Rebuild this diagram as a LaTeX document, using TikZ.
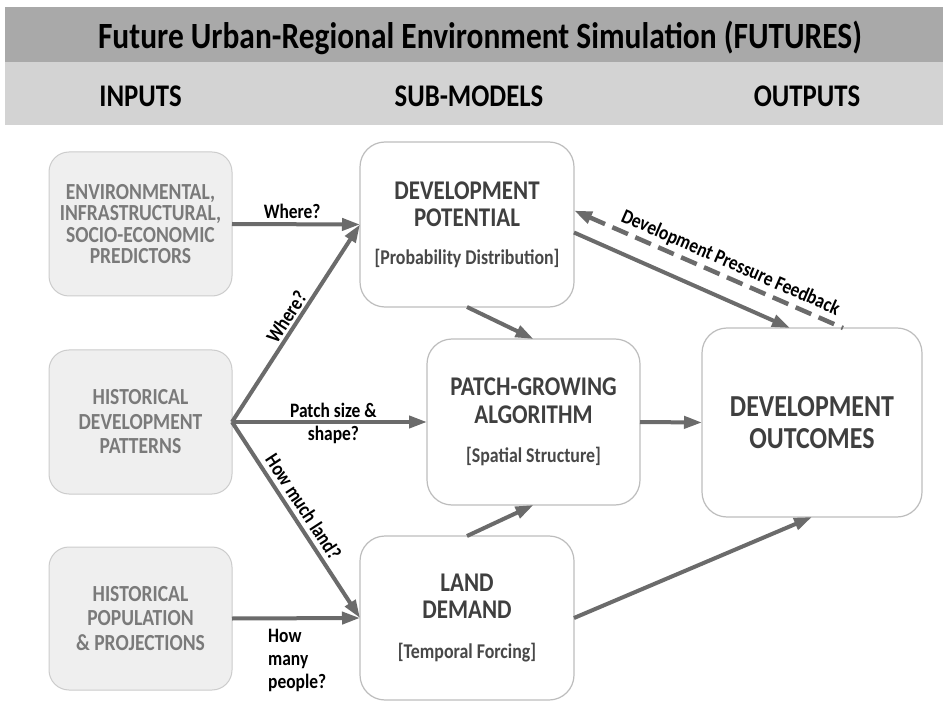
\documentclass[tikz,border=0pt]{standalone}
\usepackage{fontspec}
\setmainfont{Carlito}[FakeStretch=0.85]
\usetikzlibrary{arrows.meta,calc}
\definecolor{barA}{HTML}{A9A9A9}
\definecolor{barB}{HTML}{D3D3D3}
\definecolor{arrowc}{HTML}{6B6B6B}
\definecolor{infill}{HTML}{EFEFEF}
\definecolor{inborder}{HTML}{CCCCCC}
\definecolor{intext}{HTML}{7A7A7A}
\definecolor{subborder}{HTML}{BDBDBD}
\definecolor{subtext}{HTML}{3F3F3F}
\definecolor{brtext}{HTML}{484848}
\begin{document}
\begin{tikzpicture}[x=1pt,y=-1pt,
  inbox/.style={draw=inborder, fill=infill, rounded corners=20pt, line width=1pt,
    minimum width=183pt, minimum height=144pt, inner sep=0pt, outer sep=0pt,
    text=intext, font=\fontsize{23}{24.5}\selectfont\bfseries, align=center},
  submodel/.style={draw=subborder, fill=white, rounded corners=25pt, line width=1.2pt,
    inner sep=0pt, outer sep=0pt, text=subtext,
    font=\fontsize{27}{27.5}\selectfont\bfseries, align=center},
  arr/.style={draw=arrowc, line width=4pt, -{Triangle[length=18pt,width=12pt]}},
  darr/.style={draw=arrowc, line width=4.5pt, dash pattern=on 17pt off 8pt,
    {Triangle[length=18pt,width=12pt]}-},
  lab/.style={font=\fontsize{20.5}{23}\selectfont\bfseries, text=black},
  hdr/.style={font=\fontsize{31.5}{34}\selectfont\bfseries, text=black, anchor=base}
]
\useasboundingbox (0,0) rectangle (948,703);
\fill[white] (0,0) rectangle (948,703);
\fill[barA] (5,7) rectangle (943,62);
\fill[barB] (5,62) rectangle (943,125);
\node[font=\fontsize{37}{40}\selectfont\bfseries, text=black, anchor=base] (title) at (480,48.5)
  {Future Urban-Regional Environment Simulation (FUTURES)};
\node[hdr] (hin) at (140.5,107) {INPUTS};
\node[hdr] (hsub) at (469,107) {SUB-MODELS};
\node[hdr] (hout) at (807,107) {OUTPUTS};

% inputs
\node[inbox, font=\fontsize{23}{21.5}\selectfont\bfseries] (env) at (140.5,224) {ENVIRONMENTAL,\\INFRASTRUCTURAL,\\SOCIO-ECONOMIC\\PREDICTORS};
\node[inbox] (hd) at (140.5,422) {HISTORICAL\\DEVELOPMENT\\PATTERNS};
\node[inbox, minimum height=143pt] (hp) at (140.5,618.5) {HISTORICAL\\POPULATION\\\& PROJECTIONS};

% sub-models
\node[submodel, minimum width=214pt, minimum height=165pt] (dp) at (467,224.5)
  {DEVELOPMENT\\POTENTIAL\\[10pt]{\fontsize{21}{24}\selectfont\color{brtext}[Probability Distribution]}};
\node[submodel, minimum width=213pt, minimum height=166pt] (pg) at (533.5,422)
  {PATCH-GROWING\\ALGORITHM\\[12pt]{\fontsize{21}{24}\selectfont\color{brtext}[Spatial Structure]}};
\node[submodel, minimum width=214pt, minimum height=164pt] (ld) at (467,618)
  {LAND\\DEMAND\\[12pt]{\fontsize{21}{24}\selectfont\color{brtext}[Temporal Forcing]}};
\node[submodel, minimum width=220pt, minimum height=189pt, font=\fontsize{30.5}{32}\selectfont\bfseries] (out) at (812,422.5)
  {DEVELOPMENT\\OUTCOMES};

% connectors
\draw[arr] (env.east) -- node[lab, above=0pt, pos=0.47] {Where?} (dp.west);
\draw[arr] (hd.east) -- node[lab, sloped, above=-1pt, pos=0.5] {Where?} (dp.west);
\draw[arr] (hd.east) -- node[lab, align=center, pos=0.52, yshift=-1pt] {Patch size \&\\shape?} (pg.west);
\draw[arr] (hd.east) -- node[lab, sloped, above=1pt, pos=0.47] {How much land?} (ld.west);
\draw[arr] (hp.east) -- (ld.west);
\node[lab, align=left, anchor=north west, inner sep=0pt] (hmp) at ($(hp.east)+(36,11)$) {How\\many\\people?};
\draw[arr] (dp.south) -- (pg.north);
\draw[arr] (ld.north) -- (pg.south);
\draw[arr] (pg.east) -- (out.west);
\draw[arr] (ld.east) -- (out.south);
\draw[arr] ($(dp.east)+(0,8)$) -- ($(out.north)+(-22,0)$);
\draw[darr] ($(dp.east)+(0,-14)$) -- node[lab, sloped, above=0pt, pos=0.56] {Development Pressure Feedback} ($(out.north)+(31,0)$);
\end{tikzpicture}
\end{document}
